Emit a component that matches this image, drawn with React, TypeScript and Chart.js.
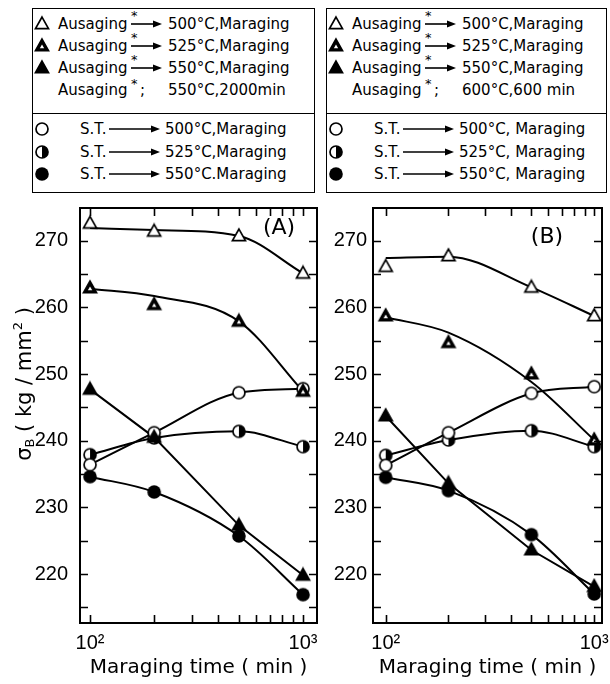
import React, { useEffect, useRef } from 'react';
import { Chart, registerables } from 'chart.js';

Chart.register(...registerables);

// ---------------- data ----------------
const TIMES = [100, 200, 500, 1000];

// Panel (A): measured points
const A_AUS500 = [272.6, 271.4, 270.7, 265.1];
const A_AUS525 = [262.9, 260.4, 257.9, 247.4];
const A_AUS550 = [247.7, 240.5, 227.3, 219.8];
const A_ST500 = [236.4, 241.2, 247.2, 247.8];
const A_ST525 = [237.9, 240.4, 241.4, 239.1];
const A_ST550 = [234.6, 232.3, 225.7, 216.9];
// Panel (A): drawn fit curves
const A_AUS500_FIT = [271.9, 271.6, 270.7, 265.1];
const A_AUS525_FIT = [262.8, 261.7, 257.9, 247.4];

// Panel (B): measured points
const B_AUS500 = [266.1, 267.7, 263.0, 258.7];
const B_AUS525 = [258.7, 254.7, 250.0, 240.1];
const B_AUS550 = [243.7, 233.6, 223.6, 218.1];
const B_ST500 = [236.3, 241.2, 247.1, 248.1];
const B_ST525 = [237.8, 240.1, 241.5, 239.1];
const B_ST550 = [234.5, 232.5, 225.9, 217.0];
// Panel (B): drawn fit curves
const B_AUS500_FIT = [267.4, 267.6, 263.0, 258.7];
const B_AUS525_FIT = [258.5, 256.2, 248.8, 240.1];

const X_TICKS = [100, 200, 300, 400, 500, 600, 700, 800, 900, 1000];
const X_LABELS: Record<number, string> = { 100: '10²', 1000: '10³' };
const Y_TICKS = [215, 220, 225, 230, 235, 240, 245, 250, 255, 260, 265, 270];
const Y_LABELS = [220, 230, 240, 250, 260, 270];

const X_TITLE = 'Maraging time ( min )';

const LEGEND_A_AUS = ['500°C,Maraging', '525°C,Maraging', '550°C,Maraging'];
const LEGEND_A_NOTE = '550°C,2000min';
const LEGEND_A_ST = ['500°C,Maraging', '525°C,Maraging', '550°C.Maraging'];
const LEGEND_B_AUS = ['500°C,Maraging', '525°C,Maraging', '550°C,Maraging'];
const LEGEND_B_NOTE = '600°C,600 min';
const LEGEND_B_ST = ['500°C, Maraging', '525°C, Maraging', '550°C, Maraging'];

const AUS_KINDS = ['triOpen', 'triHalf', 'triFilled'];
const ST_KINDS = ['circOpen', 'circHalf', 'circFilled'];

const TEXT_FONT = 'DejaVu Sans';
const TICK_FONT = 'Liberation Sans';

// ---------------- markers ----------------
const markerCache: Record<string, HTMLCanvasElement> = {};
function makeMarker(kind: string): HTMLCanvasElement {
  if (markerCache[kind]) return markerCache[kind];
  const c = document.createElement('canvas');
  c.width = 18;
  c.height = 18;
  const ctx = c.getContext('2d')!;
  ctx.strokeStyle = '#000';
  ctx.fillStyle = '#000';
  ctx.lineWidth = 1.7;
  ctx.lineJoin = 'miter';
  const cx = 9, cy = 9;
  if (kind.startsWith('tri')) {
    const h = 11.5, w = 13;
    const top = cy - h * 0.6, bot = cy + h * 0.4;
    ctx.beginPath();
    ctx.moveTo(cx, top);
    ctx.lineTo(cx + w / 2, bot);
    ctx.lineTo(cx - w / 2, bot);
    ctx.closePath();
    if (kind === 'triOpen') {
      ctx.fillStyle = '#fff';
      ctx.fill();
      ctx.stroke();
    } else {
      ctx.fill();
      ctx.stroke();
      if (kind === 'triHalf') {
        ctx.fillStyle = '#fff';
        ctx.beginPath();
        ctx.moveTo(cx, cy - 1.5);
        ctx.lineTo(cx + 2.2, cy + 2.2);
        ctx.lineTo(cx - 2.2, cy + 2.2);
        ctx.closePath();
        ctx.fill();
      }
    }
  } else {
    const r = 6;
    if (kind === 'circFilled') {
      ctx.beginPath();
      ctx.arc(cx, cy, 6.8, 0, Math.PI * 2);
      ctx.fill();
    } else {
      ctx.beginPath();
      ctx.arc(cx, cy, r, 0, Math.PI * 2);
      ctx.fillStyle = '#fff';
      ctx.fill();
      if (kind === 'circHalf') {
        ctx.fillStyle = '#000';
        ctx.beginPath();
        ctx.arc(cx, cy, r, -Math.PI / 2, Math.PI / 2);
        ctx.closePath();
        ctx.fill();
      }
      ctx.beginPath();
      ctx.arc(cx, cy, r, 0, Math.PI * 2);
      ctx.stroke();
    }
  }
  markerCache[kind] = c;
  return c;
}

// ---------------- chart config ----------------
type PanelCfg = {
  left: number; top: number; w: number; h: number;
  xMin: number; xMax: number;
  yAxisWidth: number; padRight: number; padTop: number; xAxisHeight: number;
  yTickPad: number;
  label: string; labelDx: number; labelDy: number;
  showYTitle: boolean;
  aus: number[][]; st: number[][]; ausFit: number[][];
};

const Y_MIN = 212.65;
const Y_MAX = 274.9;

const toXY = (vals: number[]) => TIMES.map((t, i) => ({ x: t, y: vals[i] }));

function framePlugin(p: PanelCfg) {
  return {
    id: 'frameTicks',
    afterDraw(chart: any) {
      const { ctx, chartArea: a, scales } = chart;
      const xs = scales.x, ys = scales.y;
      ctx.save();
      ctx.strokeStyle = '#000';
      ctx.lineWidth = 2;
      ctx.strokeRect(a.left, a.top, a.right - a.left, a.bottom - a.top);
      ctx.lineWidth = 1.6;
      const tl = 8;
      ctx.beginPath();
      for (const v of X_TICKS) {
        const px = Math.round(xs.getPixelForValue(v)) + 0.5;
        ctx.moveTo(px, a.bottom); ctx.lineTo(px, a.bottom - tl);
        ctx.moveTo(px, a.top); ctx.lineTo(px, a.top + tl);
      }
      for (const v of Y_TICKS) {
        const py = Math.round(ys.getPixelForValue(v)) + 0.5;
        ctx.moveTo(a.left, py); ctx.lineTo(a.left + tl, py);
        ctx.moveTo(a.right, py); ctx.lineTo(a.right - tl, py);
      }
      ctx.stroke();

      // panel label
      ctx.fillStyle = '#000';
      ctx.font = `22px "${TEXT_FONT}"`;
      ctx.textAlign = 'center';
      ctx.textBaseline = 'middle';
      ctx.fillText(p.label, a.right - p.labelDx, a.top + p.labelDy);

      if (p.showYTitle) {
        const parts: [string, number, number][] = [
          ['σ', 21, 0], ['B', 13, 5], [' ( kg / mm', 21, 0], ['2', 13, -7], [' )', 21, 0],
        ];
        let total = 0;
        for (const [t, s] of parts) { ctx.font = `${s}px "${TEXT_FONT}"`; total += ctx.measureText(t).width; }
        ctx.translate(26, 384 - p.top);
        ctx.rotate(-Math.PI / 2);
        ctx.textAlign = 'left';
        let x = -total / 2;
        for (const [t, s, dy] of parts) {
          ctx.font = `${s}px "${TEXT_FONT}"`;
          ctx.fillText(t, x, dy);
          x += ctx.measureText(t).width;
        }
      }
      ctx.restore();
    },
  };
}

function buildConfig(p: PanelCfg): any {
  const lineBase = { borderColor: '#000', borderWidth: 2, pointRadius: 0, fill: false, order: 2 };
  const monotone = { cubicInterpolationMode: 'monotone' };
  const lines = [
    { ...lineBase, ...monotone, data: toXY(p.ausFit[0]) },
    { ...lineBase, ...monotone, data: toXY(p.ausFit[1]) },
    { ...lineBase, tension: 0, data: toXY(p.aus[2]) },
    { ...lineBase, ...monotone, data: toXY(p.st[0]) },
    { ...lineBase, ...monotone, data: toXY(p.st[1]) },
    { ...lineBase, ...monotone, data: toXY(p.st[2]) },
  ];
  const markers = [
    ...p.aus.map((vals, i) => ({ kind: AUS_KINDS[i], vals })),
    ...p.st.map((vals, i) => ({ kind: ST_KINDS[i], vals })),
  ].map(({ kind, vals }) => ({
    data: toXY(vals),
    showLine: false,
    pointStyle: makeMarker(kind),
    pointRadius: 7,
    borderColor: '#000',
    backgroundColor: '#000',
    clip: false,
    order: 1,
  }));

  return {
    type: 'line',
    data: { datasets: [...markers, ...lines] },
    options: {
      animation: false,
      responsive: false,
      maintainAspectRatio: false,
      events: [],
      layout: { padding: { top: p.padTop, right: p.padRight, left: 0, bottom: 0 } },
      plugins: { legend: { display: false }, tooltip: { enabled: false }, title: { display: false } },
      scales: {
        x: {
          type: 'logarithmic',
          min: p.xMin,
          max: p.xMax,
          grid: { display: false, drawTicks: false },
          border: { display: false },
          afterBuildTicks: (s: any) => { s.ticks = X_TICKS.map((v) => ({ value: v })); },
          afterFit: (s: any) => { s.height = p.xAxisHeight; s.paddingLeft = 0; s.paddingRight = 0; },
          ticks: {
            autoSkip: false,
            maxRotation: 0,
            minRotation: 0,
            padding: 8,
            color: '#000',
            font: { family: TICK_FONT, size: 20 },
            callback: (v: any) => X_LABELS[Number(v)] ?? '',
          },
          title: {
            display: true,
            text: X_TITLE,
            color: '#000',
            font: { family: TEXT_FONT, size: 20 },
            padding: { top: 0, bottom: 4 },
          },
        },
        y: {
          type: 'linear',
          min: Y_MIN,
          max: Y_MAX,
          grid: { display: false, drawTicks: false },
          border: { display: false },
          afterBuildTicks: (s: any) => { s.ticks = Y_TICKS.map((v) => ({ value: v })); },
          afterFit: (s: any) => { s.width = p.yAxisWidth; s.paddingTop = 0; s.paddingBottom = 0; },
          ticks: {
            autoSkip: false,
            padding: p.yTickPad,
            color: '#000',
            font: { family: TICK_FONT, size: 20 },
            callback: (v: any) => (Y_LABELS.includes(Number(v)) ? String(v) : ''),
          },
        },
      },
    },
    plugins: [framePlugin(p)],
  };
}

const PANEL_A: PanelCfg = {
  left: 0, top: 196, w: 330, h: 488,
  xMin: 89.7, xMax: 1163,
  yAxisWidth: 80, padRight: 13, padTop: 12, xAxisHeight: 61,
  yTickPad: 12,
  label: '(A)', labelDx: 38, labelDy: 20,
  showYTitle: true,
  aus: [A_AUS500, A_AUS525, A_AUS550],
  st: [A_ST500, A_ST525, A_ST550],
  ausFit: [A_AUS500_FIT, A_AUS525_FIT],
};

const PANEL_B: PanelCfg = {
  left: 320, top: 196, w: 290, h: 488,
  xMin: 86.9, xMax: 1090,
  yAxisWidth: 53, padRight: 3, padTop: 12, xAxisHeight: 61,
  yTickPad: 6,
  label: '(B)', labelDx: 55, labelDy: 29,
  showYTitle: false,
  aus: [B_AUS500, B_AUS525, B_AUS550],
  st: [B_ST500, B_ST525, B_ST550],
  ausFit: [B_AUS500_FIT, B_AUS525_FIT],
};

function Panel({ cfg }: { cfg: PanelCfg }) {
  const ref = useRef<HTMLCanvasElement>(null);
  useEffect(() => {
    const chart = new Chart(ref.current!, buildConfig(cfg));
    return () => chart.destroy();
  }, [cfg]);
  return (
    <canvas
      ref={ref}
      width={cfg.w}
      height={cfg.h}
      style={{ position: 'absolute', left: cfg.left, top: cfg.top, width: cfg.w, height: cfg.h }}
    />
  );
}

// ---------------- legend ----------------
function MarkerIcon({ kind }: { kind: string }) {
  const cx = 9, cy = 9;
  let el: any;
  if (kind.startsWith('tri')) {
    const h = 11.5, w = 13;
    const top = cy - h * 0.6, bot = cy + h * 0.4;
    const pts = `${cx},${top} ${cx + w / 2},${bot} ${cx - w / 2},${bot}`;
    el = (
      <>
        <polygon points={pts} fill={kind === 'triOpen' ? '#fff' : '#000'} stroke="#000" strokeWidth={1.7} />
        {kind === 'triHalf' && (
          <polygon points={`${cx},${cy - 1.5} ${cx + 2.2},${cy + 2.2} ${cx - 2.2},${cy + 2.2}`} fill="#fff" />
        )}
      </>
    );
  } else if (kind === 'circFilled') {
    el = <circle cx={cx} cy={cy} r={6.8} fill="#000" />;
  } else {
    el = (
      <>
        <circle cx={cx} cy={cy} r={6} fill="#fff" />
        {kind === 'circHalf' && <path d={`M ${cx} ${cy - 6} A 6 6 0 0 1 ${cx} ${cy + 6} Z`} fill="#000" />}
        <circle cx={cx} cy={cy} r={6} fill="none" stroke="#000" strokeWidth={1.7} />
      </>
    );
  }
  return (
    <svg width={18} height={18} viewBox="0 0 18 18" style={{ display: 'block' }}>
      {el}
    </svg>
  );
}

function Arrow({ w }: { w: number }) {
  return (
    <svg width={w} height={10} viewBox={`0 0 ${w} 10`} style={{ display: 'block' }}>
      <line x1={0} y1={5} x2={w - 6} y2={5} stroke="#000" strokeWidth={1.6} />
      <polygon points={`${w - 9},1.5 ${w},5 ${w - 9},8.5`} fill="#000" />
    </svg>
  );
}

const TOP_ROWS = [24, 46, 68, 90];
const BOTTOM_ROWS = [129, 152, 174];

function LegendBox({ left, width, aus, note, st }: { left: number; width: number; aus: string[]; note: string; st: string[] }) {
  const textStyle: React.CSSProperties = {
    position: 'absolute', fontSize: 15, lineHeight: '22px', height: 22, whiteSpace: 'nowrap',
    fontFamily: TEXT_FONT, color: '#000',
  };
  const items: any[] = [];
  aus.forEach((txt, i) => {
    const cy = TOP_ROWS[i];
    items.push(
      <div key={`as${i}`} style={{ position: 'absolute', left: left + 1, top: cy - 9 }}>
        <MarkerIcon kind={AUS_KINDS[i]} />
      </div>,
      <div key={`at${i}`} style={{ ...textStyle, left: left + 26, top: cy - 11 }}>Ausaging</div>,
      <div key={`ak${i}`} style={{ ...textStyle, left: left + 99, top: cy - 19, fontSize: 13 }}>*</div>,
      <div key={`aa${i}`} style={{ position: 'absolute', left: left + 99, top: cy - 5 }}>
        <Arrow w={31} />
      </div>,
      <div key={`av${i}`} style={{ ...textStyle, left: left + 136, top: cy - 11 }}>{txt}</div>,
    );
  });
  const ny = TOP_ROWS[3];
  items.push(
    <div key="nt" style={{ ...textStyle, left: left + 26, top: ny - 11 }}>Ausaging</div>,
    <div key="nk" style={{ ...textStyle, left: left + 99, top: ny - 17, fontSize: 13 }}>*</div>,
    <div key="ns" style={{ ...textStyle, left: left + 108, top: ny - 11 }}>;</div>,
    <div key="nv" style={{ ...textStyle, left: left + 136, top: ny - 11 }}>{note}</div>,
  );
  st.forEach((txt, i) => {
    const cy = BOTTOM_ROWS[i];
    items.push(
      <div key={`ss${i}`} style={{ position: 'absolute', left: left + 1, top: cy - 9 }}>
        <MarkerIcon kind={ST_KINDS[i]} />
      </div>,
      <div key={`st${i}`} style={{ ...textStyle, left: left + 48, top: cy - 11 }}>S.T.</div>,
      <div key={`sa${i}`} style={{ position: 'absolute', left: left + 77, top: cy - 5 }}>
        <Arrow w={51} />
      </div>,
      <div key={`sv${i}`} style={{ ...textStyle, left: left + 133, top: cy - 11 }}>{txt}</div>,
    );
  });
  return (
    <>
      <div style={{ position: 'absolute', left, top: 8, width, height: 185, border: '1.5px solid #000', boxSizing: 'border-box' }} />
      <div style={{ position: 'absolute', left, top: 113, width, height: 0, borderTop: '1.5px solid #000' }} />
      {items}
    </>
  );
}

export default function App() {
  return (
    <div style={{ position: 'fixed', left: 0, top: 0, width: 610, height: 684, overflow: 'hidden', background: '#fff' }}>
      <LegendBox left={32} width={283} aus={LEGEND_A_AUS} note={LEGEND_A_NOTE} st={LEGEND_A_ST} />
      <LegendBox left={326} width={281} aus={LEGEND_B_AUS} note={LEGEND_B_NOTE} st={LEGEND_B_ST} />
      <Panel cfg={PANEL_A} />
      <Panel cfg={PANEL_B} />
    </div>
  );
}
